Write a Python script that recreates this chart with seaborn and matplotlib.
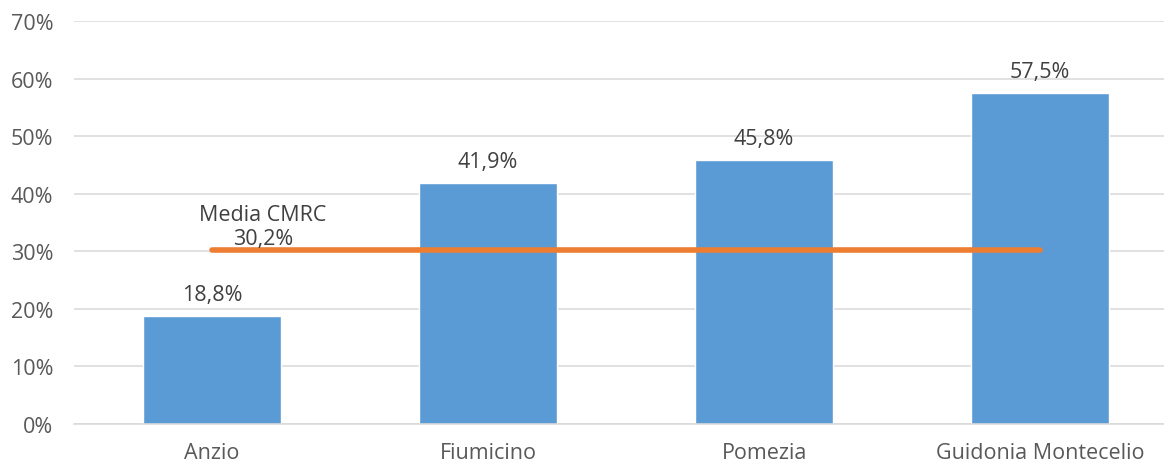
import matplotlib
matplotlib.use('Agg')
import matplotlib.pyplot as plt
import seaborn as sns
import pandas as pd
from matplotlib.ticker import FuncFormatter

# dati
comuni = ['Anzio', 'Fiumicino', 'Pomezia', 'Guidonia Montecelio']
valori = [18.8, 41.9, 45.8, 57.5]
media_cmrc = 30.2
media_label = 'Media CMRC'

df = pd.DataFrame({'Comune': comuni, 'Valore': valori})

sns.set_theme(style='white')
plt.rcParams['font.family'] = ['Open Sans', 'DejaVu Sans']

fig = plt.figure(figsize=(11.64, 4.64), dpi=100)
ax = fig.add_axes([0.0636, 0.084, 0.9485, 0.8686])

sns.barplot(data=df, x='Comune', y='Valore', color='#5b9bd5', saturation=1,
            width=0.5, ax=ax, zorder=2)

# linea della media
ax.plot([0, len(comuni) - 1], [media_cmrc, media_cmrc], color='#ed7d31',
        lw=4, solid_capstyle='round', zorder=3)
ax.annotate(f'{media_label}\n{str(media_cmrc).replace(".", ",")}%',
            xy=(0.185, media_cmrc), xytext=(0, 1), textcoords='offset points',
            ha='center', va='bottom', fontsize=15.5, color='#404040',
            linespacing=1.2, zorder=4)

# etichette
for i, v in enumerate(valori):
    ax.annotate(f'{v:.1f}%'.replace('.', ','), xy=(i, v), xytext=(0, 8),
                textcoords='offset points', ha='center', va='bottom',
                fontsize=15.5, color='#404040')

ax.set_xlim(-0.5, len(comuni) - 0.5)
ax.set_ylim(0, 70)
ax.set_yticks(range(0, 71, 10))
ax.yaxis.set_major_formatter(FuncFormatter(lambda v, p: f'{v:.0f}%'))
ax.grid(axis='y', color='#d9d9d9', lw=1.1, zorder=0)
ax.set_axisbelow(True)
for s in ax.spines.values():
    s.set_visible(False)
ax.spines['bottom'].set_visible(True)
ax.spines['bottom'].set_color('#d9d9d9')
ax.spines['bottom'].set_linewidth(1.1)
ax.tick_params(axis='y', length=0, pad=15, labelsize=15.5, labelcolor='#595959')
ax.tick_params(axis='x', length=0, pad=13, labelsize=15.5, labelcolor='#595959')
ax.set_xlabel('')
ax.set_ylabel('')

fig.savefig('out.png', dpi=100)
